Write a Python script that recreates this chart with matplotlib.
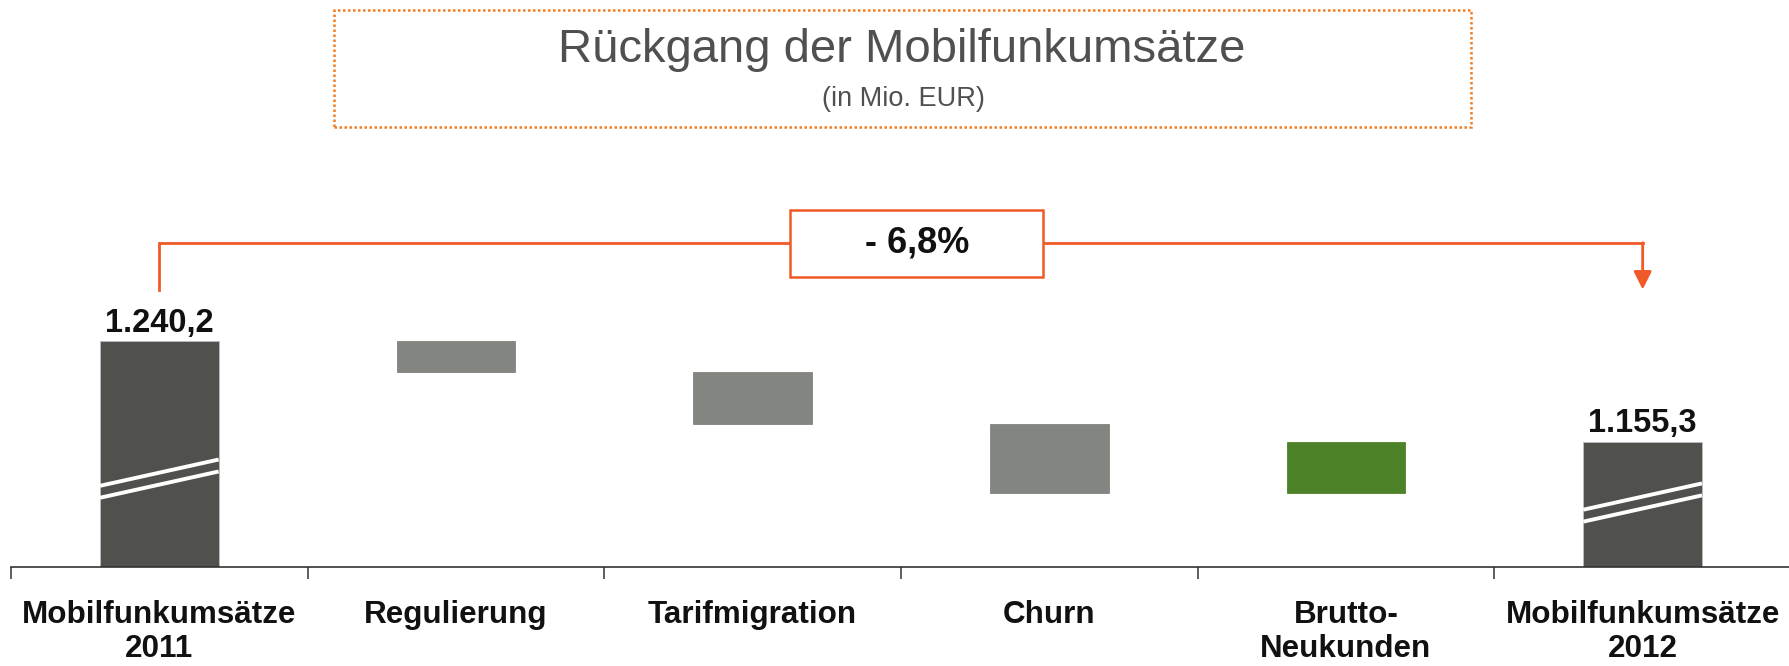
import matplotlib
matplotlib.use("Agg")
import matplotlib.pyplot as plt
from matplotlib.patches import Rectangle
import numpy as np

plt.rcParams['font.family'] = ['Liberation Sans', 'DejaVu Sans']

# Daten (Mio. EUR)
categories = ['Mobilfunkumsätze\n2011', 'Regulierung', 'Tarifmigration',
              'Churn', 'Brutto-\nNeukunden', 'Mobilfunkumsätze\n2012']
start_value = 1240.2
end_value = 1155.3
deltas = [-26.2, -43.3, -58.0, 42.6]

# Farben
c_total = '#50504C'
c_neg = '#838580'
c_pos = '#4E8229'
c_accent = '#F05A28'
c_box = '#F47C20'
c_title = '#505050'


def fmt_de(v):
    return f"{v:,.1f}".replace(',', 'X').replace('.', ',').replace('X', '.')


fig = plt.figure(figsize=(17.89, 6.66), dpi=100)
W, H = 1789, 666

# Achse: unten bei y=567px, oben bei y=130px
ax = fig.add_axes([11 / W, (H - 567) / H, 1780 / W, 437 / H])
ax.set_xlim(-0.5, 5.5)
ax.set_ylim(1051, 1417)

bar_w = 0.4
x = np.arange(len(categories))

# Summenbalken
totals = [start_value, end_value]
ax.bar([x[0], x[-1]], [v - 1051 for v in totals], bottom=1051, width=bar_w,
       color=c_total, edgecolor='#bdbdbd', linewidth=0.6, zorder=2)

# Veränderungen
level = start_value
for i, d in enumerate(deltas, start=1):
    color = c_pos if d > 0 else c_neg
    ax.bar(x[i], abs(d), bottom=min(level, level + d), width=bar_w,
           color=color, edgecolor=color, linewidth=0.6, zorder=2)
    level += d

# Achsenbruch-Markierung (weiße Doppellinie)
break_y = [1119, 1099]
break_rise = 22
break_gap = 10
for xi, yb in zip([x[0], x[-1]], break_y):
    for off in (0, -break_gap):
        ax.plot([xi - bar_w / 2, xi + bar_w / 2], [yb + off, yb + off + break_rise],
                color='white', lw=2.8, solid_capstyle='butt', zorder=3)

# Werte über den Summenbalken
for xi, v, off in zip([x[0], x[-1]], totals, [6.3, 7.2]):
    ax.annotate(fmt_de(v), xy=(xi, v), xytext=(0, off), textcoords='offset points',
                ha='center', va='baseline', fontsize=23.5, fontweight='bold',
                color='#111111')

# Klammer mit Pfeil
bracket_y = 1322.6
bracket_bottom = 1283.4
ax.plot([x[0], x[0], x[-1]], [bracket_bottom, bracket_y, bracket_y],
        color=c_accent, lw=2, solid_joinstyle='miter', zorder=1)
ax.annotate('', xy=(x[-1], bracket_bottom), xytext=(x[-1], bracket_y),
            arrowprops=dict(arrowstyle='-|>', color=c_accent, lw=2,
                            mutation_scale=27, shrinkA=0, shrinkB=0))

pct = (end_value / start_value - 1) * 100
pct_txt = f"- {abs(pct):.1f}%".replace('.', ',')
ax.add_patch(Rectangle((2.126, 1294.1), 0.853, 56.1, facecolor='white',
                       edgecolor=c_accent, lw=1.8, zorder=4))
ax.text(2.555, 1322.3, pct_txt, ha='center', va='center', fontsize=26,
        fontweight='bold', color='#111111', zorder=5)

# Achsen-Styling
for s in ['top', 'right', 'left']:
    ax.spines[s].set_visible(False)
ax.spines['bottom'].set_color('#333333')
ax.spines['bottom'].set_linewidth(1.2)
ax.set_yticks([])
ax.set_xticks(np.arange(-0.5, 6, 1))
ax.set_xticklabels([])
ax.tick_params(axis='x', direction='out', length=8.6, width=1.1, color='#333333')

for xi, lab in zip(x, categories):
    ax.annotate(lab, xy=(xi, 0), xycoords=('data', 'axes fraction'),
                xytext=(0, -23.5), textcoords='offset points',
                ha='center', va='top', fontsize=22.6, fontweight='bold',
                color='#111111', linespacing=1.2)

# Titelbox
fig.patches.append(Rectangle((334 / W, (H - 127) / H), 1137 / W, 117 / H,
                             transform=fig.transFigure, fill=False,
                             edgecolor=c_box, lw=1.8, linestyle=(0, (1, 1))))
fig.text(902 / W, (H - 62) / H, 'Rückgang der Mobilfunkumsätze', ha='center',
         va='baseline', fontsize=34, color=c_title)
fig.text(903 / W, (H - 106) / H, '(in Mio. EUR)', ha='center', va='baseline',
         fontsize=19.5, color=c_title)

fig.savefig('out.png', dpi=100)
